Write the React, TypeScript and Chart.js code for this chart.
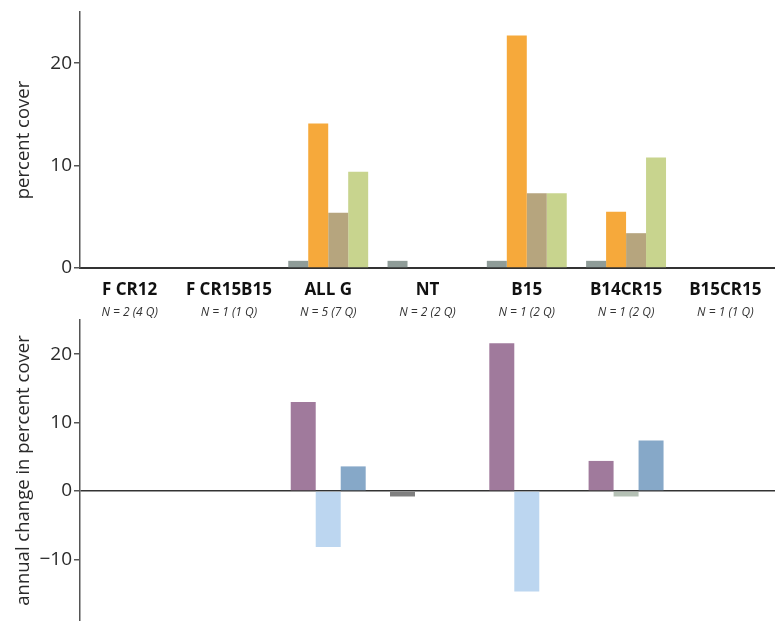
import React, { useEffect, useRef } from "react";
import { Chart, registerables } from "chart.js";

Chart.register(...registerables);

const categories = ["F CR12", "F CR15B15", "ALL G", "NT", "B15", "B14CR15", "B15CR15"];
const sampleLabels = ["N = 2 (4 Q)", "N = 1 (1 Q)", "N = 5 (7 Q)", "N = 2 (2 Q)", "N = 1 (2 Q)", "N = 1 (2 Q)", "N = 1 (1 Q)"];

// top panel: percent cover
const coverGrey = [0, 0, 0.7, 0.7, 0.7, 0.7, 0];
const coverOrange = [0, 0, 14.1, 0, 22.7, 5.5, 0];
const coverBrown = [0, 0, 5.4, 0, 7.3, 3.4, 0];
const coverGreen = [0, 0, 9.4, 0, 7.3, 10.8, 0];

// bottom panel: annual change in percent cover
const changeFirst = [0, 0, 13.0, -0.8, 21.6, 4.4, 0];
const changeSecond = [0, 0, -8.2, 0, -14.7, -0.8, 0];
const changeThird = [0, 0, 3.6, 0, 0, 7.4, 0];

const topTicks = [0, 10, 20];
const bottomTicks = [-10, 0, 10, 20];

const FONT = "'Open Sans', 'DejaVu Sans', sans-serif";
const AXIS = "#555";
const TEXT = "#2a2a2a";

function yAxis(min: number, max: number, keep: number[], title: string, zeroLine: boolean) {
  return {
    type: "linear" as const,
    min,
    max,
    afterFit: (s: any) => {
      s.width = 80;
      s.paddingTop = 0;
      s.paddingBottom = 0;
    },
    afterBuildTicks: (s: any) => {
      s.ticks = keep.map((v) => ({ value: v }));
    },
    border: { display: true, color: AXIS, width: 1.5 },
    grid: {
      drawOnChartArea: zeroLine,
      color: (c: any) => (zeroLine && c.tick && c.tick.value === 0 ? "#333" : "rgba(0,0,0,0)"),
      lineWidth: 1.5,
      tickColor: AXIS,
      tickLength: 6,
    },
    ticks: {
      color: TEXT,
      font: { family: FONT, size: 19 },
      padding: 2,
      callback: (v: any) => (v < 0 ? "\u2212" + Math.abs(v) : String(v)),
    },
    title: {
      display: true,
      text: title,
      color: TEXT,
      font: { family: FONT, size: 18.5 },
      padding: { top: 13, bottom: 0 },
    },
  };
}

function TopChart() {
  const ref = useRef<HTMLCanvasElement>(null);
  useEffect(() => {
    const chart = new Chart(ref.current!, {
      type: "bar",
      data: {
        labels: categories,
        datasets: [
          { label: "grey", data: coverGrey, backgroundColor: "#8f9c98" },
          { label: "orange", data: coverOrange, backgroundColor: "#f6a93b" },
          { label: "brown", data: coverBrown, backgroundColor: "#b6a57e" },
          { label: "green", data: coverGreen, backgroundColor: "#c8d48e" },
        ],
      },
      options: {
        responsive: false,
        animation: false,
        layout: { padding: { top: 12, right: 0, left: 0, bottom: 0 } },
        plugins: { legend: { display: false }, tooltip: { enabled: false } },
        datasets: { bar: { categoryPercentage: 0.805, barPercentage: 1 } },
        scales: {
          x: {
            afterFit: (s: any) => {
              s.height = 34;
            },
            border: { display: true, color: "#333", width: 2 },
            grid: { display: false, drawTicks: false },
            ticks: {
              color: "#111",
              font: { family: FONT, size: 17, weight: "bold" },
              padding: 12,
              maxRotation: 0,
              autoSkip: false,
            },
          },
          y: yAxis(0, 25, topTicks, "percent cover", false),
        },
      },
    });
    return () => chart.destroy();
  }, []);
  return <canvas ref={ref} width={775} height={302} style={{ display: "block" }} />;
}

function BottomChart() {
  const ref = useRef<HTMLCanvasElement>(null);
  useEffect(() => {
    const firstColors = ["#a07a9c", "#a07a9c", "#a07a9c", "#7f7f7f", "#a07a9c", "#a07a9c", "#a07a9c"];
    const secondColors = ["#bcd6f0", "#bcd6f0", "#bcd6f0", "#bcd6f0", "#bcd6f0", "#b4c0b4", "#bcd6f0"];
    const chart = new Chart(ref.current!, {
      type: "bar",
      data: {
        labels: sampleLabels,
        datasets: [
          { label: "first", data: changeFirst, backgroundColor: firstColors },
          { label: "second", data: changeSecond, backgroundColor: secondColors },
          { label: "third", data: changeThird, backgroundColor: "#86a8c8" },
        ],
      },
      options: {
        responsive: false,
        animation: false,
        layout: { padding: { top: 0, right: 0, left: 0, bottom: 0 } },
        plugins: { legend: { display: false }, tooltip: { enabled: false } },
        datasets: { bar: { categoryPercentage: 0.755, barPercentage: 1 } },
        scales: {
          x: {
            position: "top",
            afterFit: (s: any) => {
              s.height = 18;
            },
            border: { display: false },
            grid: { display: false, drawTicks: false },
            ticks: {
              color: "#333",
              font: { family: FONT, size: 12, style: "italic" },
              padding: 0,
              maxRotation: 0,
              autoSkip: false,
            },
          },
          y: yAxis(-19, 25, bottomTicks, "annual change in percent cover", true),
        },
      },
    });
    return () => chart.destroy();
  }, []);
  return <canvas ref={ref} width={775} height={319} style={{ display: "block" }} />;
}

export default function App() {
  return (
    <div style={{ position: "absolute", left: 0, top: 0, width: 775, height: 621, background: "#fff" }}>
      <TopChart />
      <BottomChart />
    </div>
  );
}
